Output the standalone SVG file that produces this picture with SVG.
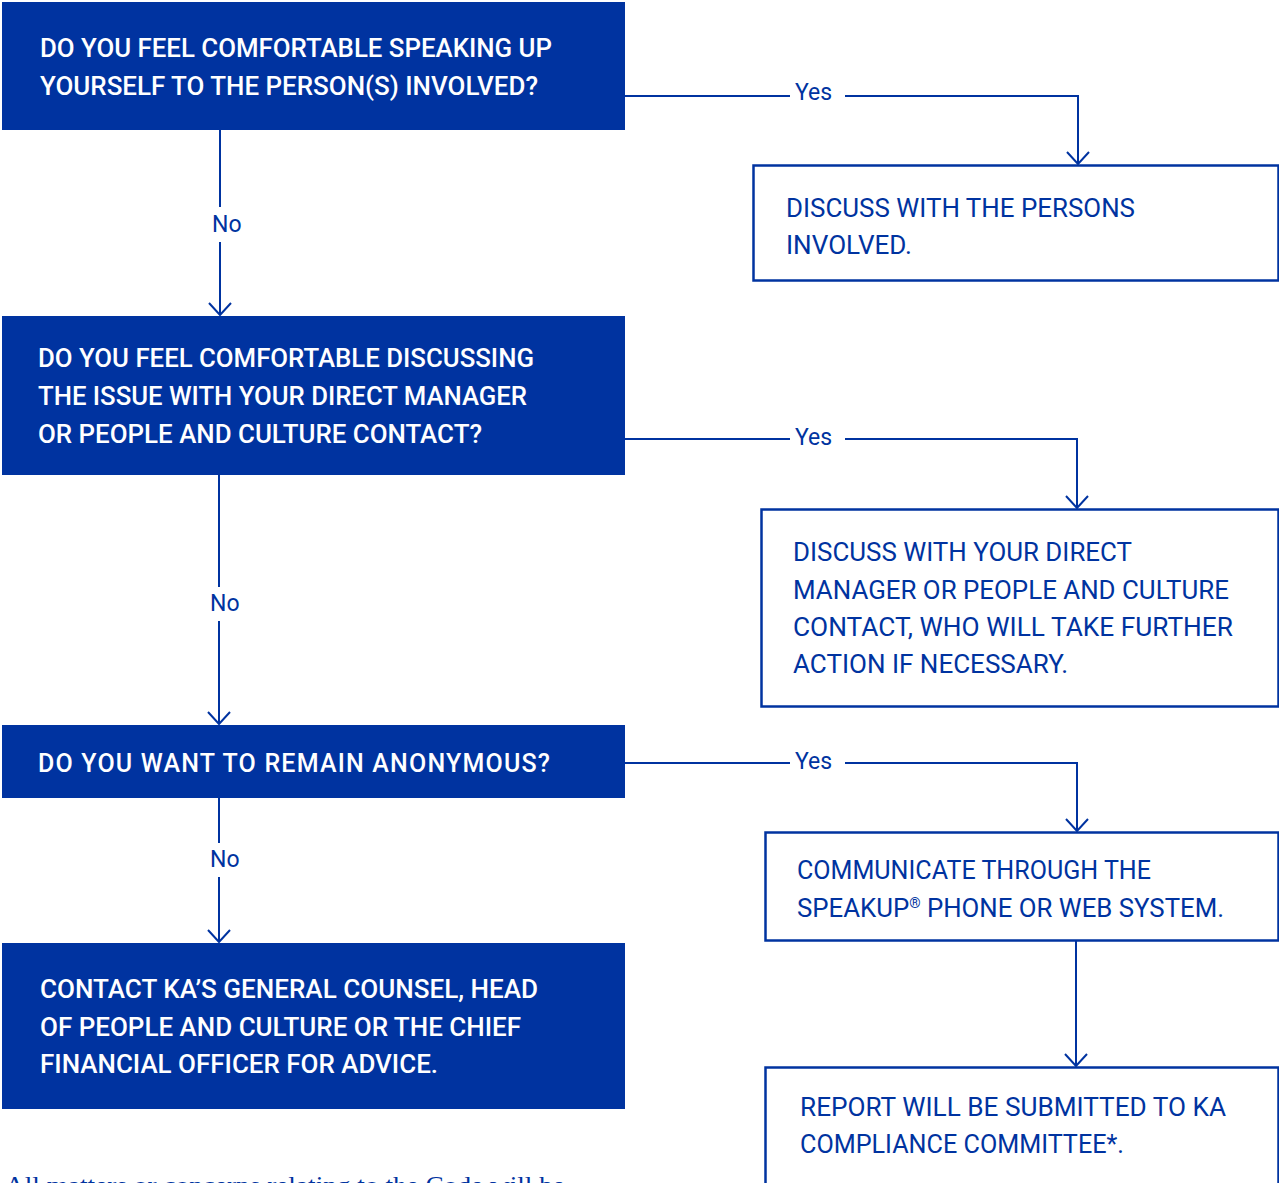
<svg xmlns="http://www.w3.org/2000/svg" width="1279" height="1183" viewBox="0 0 1279 1183">
<style>
.q{fill:#0033a0}
.o{fill:#fff;stroke:#0033a0;stroke-width:2.5}
.tw{fill:#fff;font-family:Roboto,"Liberation Sans",sans-serif;font-weight:500;font-size:25px}
.tb{fill:#0033a0;font-family:Roboto,"Liberation Sans",sans-serif;font-weight:400;font-size:25px}
.lbl{fill:#0033a0;font-family:Roboto,"Liberation Sans",sans-serif;font-weight:400;font-size:23px}
.c{fill:none;stroke:#0033a0;stroke-width:2}
.foot{fill:#0033a0;font-family:"Liberation Serif",serif;font-size:25px}
</style>
<defs>
<marker id="arr" markerUnits="userSpaceOnUse" markerWidth="30" markerHeight="30" viewBox="-15 -15 30 30" refX="0" refY="0" orient="auto">
<path d="M-12,-11 L0,0 L-12,11" fill="none" stroke="#0033a0" stroke-width="2"/>
</marker>
</defs>
<rect width="1279" height="1183" fill="#fff"/>
<g id="connectors">
<path class="c" d="M625,96 H790"/>
<path class="c" d="M845,96 H1078 V164" marker-end="url(#arr)"/>
<path class="c" d="M220,130 V207"/>
<path class="c" d="M220,242 V315" marker-end="url(#arr)"/>
<path class="c" d="M625,439 H790"/>
<path class="c" d="M845,439 H1077 V508" marker-end="url(#arr)"/>
<path class="c" d="M219,475 V587"/>
<path class="c" d="M219,621 V724" marker-end="url(#arr)"/>
<path class="c" d="M625,763 H790"/>
<path class="c" d="M845,763 H1077 V831" marker-end="url(#arr)"/>
<path class="c" d="M219,798 V843"/>
<path class="c" d="M219,877 V942" marker-end="url(#arr)"/>
<path class="c" d="M1076,941 V1066" marker-end="url(#arr)"/>
<text class="lbl" x="795" y="100">Yes</text>
<text class="lbl" x="212" y="232">No</text>
<text class="lbl" x="795" y="445">Yes</text>
<text class="lbl" x="210" y="611">No</text>
<text class="lbl" x="795" y="769">Yes</text>
<text class="lbl" x="210" y="867">No</text>
</g>
<g id="q1">
<rect class="q" x="2" y="2" width="623" height="128"/>
<text class="tw" x="40" y="57" textLength="512" lengthAdjust="spacingAndGlyphs">DO YOU FEEL COMFORTABLE SPEAKING UP</text>
<text class="tw" x="40" y="95" textLength="498" lengthAdjust="spacingAndGlyphs">YOURSELF TO THE PERSON(S) INVOLVED?</text>
</g>
<g id="a1">
<rect class="o" x="753.5" y="165.5" width="525" height="115"/>
<text class="tb" x="786" y="217" textLength="349" lengthAdjust="spacingAndGlyphs">DISCUSS WITH THE PERSONS</text>
<text class="tb" x="786" y="254" textLength="126" lengthAdjust="spacingAndGlyphs">INVOLVED.</text>
</g>
<g id="q2">
<rect class="q" x="2" y="316" width="623" height="159"/>
<text class="tw" x="38" y="367" textLength="496" lengthAdjust="spacingAndGlyphs">DO YOU FEEL COMFORTABLE DISCUSSING</text>
<text class="tw" x="38" y="405" textLength="489" lengthAdjust="spacingAndGlyphs">THE ISSUE WITH YOUR DIRECT MANAGER</text>
<text class="tw" x="38" y="443" textLength="444" lengthAdjust="spacingAndGlyphs">OR PEOPLE AND CULTURE CONTACT?</text>
</g>
<g id="a2">
<rect class="o" x="761.5" y="509.5" width="517" height="197"/>
<text class="tb" x="793" y="561" textLength="339" lengthAdjust="spacingAndGlyphs">DISCUSS WITH YOUR DIRECT</text>
<text class="tb" x="793" y="599" textLength="436" lengthAdjust="spacingAndGlyphs">MANAGER OR PEOPLE AND CULTURE</text>
<text class="tb" x="793" y="636" textLength="440" lengthAdjust="spacingAndGlyphs">CONTACT, WHO WILL TAKE FURTHER</text>
<text class="tb" x="793" y="673" textLength="275" lengthAdjust="spacingAndGlyphs">ACTION IF NECESSARY.</text>
</g>
<g id="q3">
<rect class="q" x="2" y="725" width="623" height="73"/>
<text class="tw" x="38" y="772" textLength="512" lengthAdjust="spacing">DO YOU WANT TO REMAIN ANONYMOUS?</text>
</g>
<g id="a3">
<rect class="o" x="765.5" y="832.5" width="513" height="108"/>
<text class="tb" x="797" y="879" textLength="354" lengthAdjust="spacingAndGlyphs">COMMUNICATE THROUGH THE</text>
<text class="tb" x="797" y="917" textLength="427" lengthAdjust="spacingAndGlyphs">SPEAKUP<tspan font-size="14" dy="-9">®</tspan><tspan dy="9"> PHONE OR WEB SYSTEM.</tspan></text>
</g>
<g id="a4">
<rect class="o" x="765.5" y="1067.5" width="513" height="130"/>
<text class="tb" x="800" y="1116" textLength="426" lengthAdjust="spacingAndGlyphs">REPORT WILL BE SUBMITTED TO KA</text>
<text class="tb" x="800" y="1153" textLength="324" lengthAdjust="spacingAndGlyphs">COMPLIANCE COMMITTEE*.</text>
</g>
<g id="q4">
<rect class="q" x="2" y="943" width="623" height="166"/>
<text class="tw" x="40" y="998" textLength="498" lengthAdjust="spacingAndGlyphs">CONTACT KA’S GENERAL COUNSEL, HEAD</text>
<text class="tw" x="40" y="1036" textLength="481" lengthAdjust="spacingAndGlyphs">OF PEOPLE AND CULTURE OR THE CHIEF</text>
<text class="tw" x="40" y="1073" textLength="398" lengthAdjust="spacingAndGlyphs">FINANCIAL OFFICER FOR ADVICE.</text>
</g>
<text class="foot" x="5" y="1194" textLength="560" lengthAdjust="spacingAndGlyphs">All matters or concerns relating to the Code will be</text>
</svg>
